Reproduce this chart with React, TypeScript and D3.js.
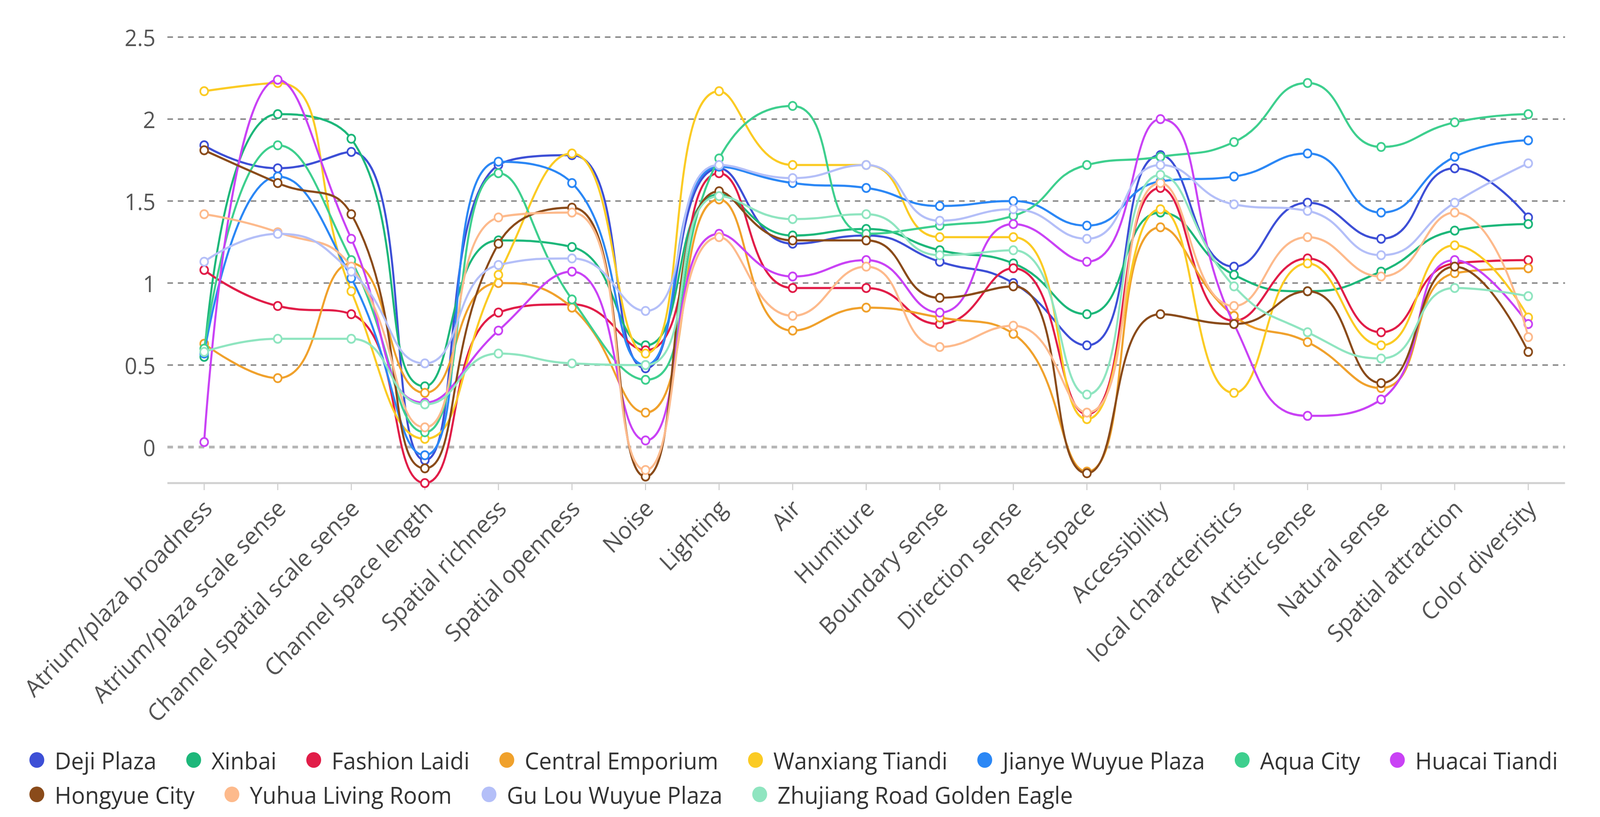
import React, { useMemo } from 'react';
import * as d3 from 'd3';

const categories = [
  'Atrium/plaza broadness', 'Atrium/plaza scale sense', 'Channel spatial scale sense',
  'Channel space length', 'Spatial richness', 'Spatial openness', 'Noise', 'Lighting',
  'Air', 'Humiture', 'Boundary sense', 'Direction sense', 'Rest space', 'Accessibility',
  'local characteristics', 'Artistic sense', 'Natural sense', 'Spatial attraction', 'Color diversity',
];

const seriesNames = [
  'Deji Plaza', 'Xinbai', 'Fashion Laidi', 'Central Emporium', 'Wanxiang Tiandi',
  'Jianye Wuyue Plaza', 'Aqua City', 'Huacai Tiandi', 'Hongyue City', 'Yuhua Living Room',
  'Gu Lou Wuyue Plaza', 'Zhujiang Road Golden Eagle',
];

const seriesColors = [
  '#3d4fd6', '#1db77a', '#e11d48', '#f0a12c', '#fbcb24', '#2b87f5',
  '#3ecf8e', '#c942f5', '#8a4b1a', '#fdba8c', '#b4bff8', '#8fe5c0',
];

const dejiPlaza = [1.84, 1.70, 1.80, -0.08, 1.72, 1.78, 0.48, 1.70, 1.24, 1.29, 1.13, 1.00, 0.62, 1.78, 1.10, 1.49, 1.27, 1.70, 1.40];
const xinbai = [0.55, 2.03, 1.88, 0.37, 1.26, 1.22, 0.62, 1.54, 1.29, 1.33, 1.20, 1.12, 0.81, 1.43, 1.05, 0.95, 1.07, 1.32, 1.36];
const fashionLaidi = [1.08, 0.86, 0.81, -0.22, 0.82, 0.87, 0.59, 1.67, 0.97, 0.97, 0.75, 1.09, 0.20, 1.58, 0.77, 1.15, 0.70, 1.12, 1.14];
const centralEmporium = [0.63, 0.42, 1.12, 0.33, 1.00, 0.85, 0.21, 1.51, 0.71, 0.85, 0.79, 0.69, -0.15, 1.34, 0.80, 0.64, 0.36, 1.06, 1.09];
const wanxiangTiandi = [2.17, 2.22, 0.95, 0.05, 1.05, 1.79, 0.57, 2.17, 1.72, 1.72, 1.28, 1.28, 0.17, 1.45, 0.33, 1.12, 0.62, 1.23, 0.79];
const jianyeWuyue = [0.57, 1.65, 1.03, -0.05, 1.74, 1.61, 0.50, 1.71, 1.61, 1.58, 1.47, 1.50, 1.35, 1.62, 1.65, 1.79, 1.43, 1.77, 1.87];
const aquaCity = [0.60, 1.84, 1.14, 0.09, 1.67, 0.90, 0.41, 1.76, 2.08, 1.30, 1.35, 1.41, 1.72, 1.77, 1.86, 2.22, 1.83, 1.98, 2.03];
const huacaiTiandi = [0.03, 2.24, 1.27, 0.27, 0.71, 1.07, 0.04, 1.30, 1.04, 1.14, 0.82, 1.36, 1.13, 2.00, 0.75, 0.19, 0.29, 1.14, 0.75];
const hongyueCity = [1.81, 1.61, 1.42, -0.13, 1.24, 1.46, -0.18, 1.56, 1.26, 1.26, 0.91, 0.98, -0.16, 0.81, 0.75, 0.95, 0.39, 1.10, 0.58];
const yuhuaLivingRoom = [1.42, 1.31, 1.10, 0.12, 1.40, 1.43, -0.14, 1.28, 0.80, 1.10, 0.61, 0.74, 0.21, 1.61, 0.86, 1.28, 1.04, 1.43, 0.67];
const guLouWuyue = [1.13, 1.30, 1.07, 0.51, 1.11, 1.15, 0.83, 1.72, 1.64, 1.72, 1.38, 1.45, 1.27, 1.72, 1.48, 1.44, 1.17, 1.49, 1.73];
const zhujiangRoad = [0.58, 0.66, 0.66, 0.26, 0.57, 0.51, 0.50, 1.53, 1.39, 1.42, 1.17, 1.20, 0.32, 1.66, 0.98, 0.70, 0.54, 0.97, 0.92];

const seriesValues = [
  dejiPlaza, xinbai, fashionLaidi, centralEmporium, wanxiangTiandi, jianyeWuyue,
  aquaCity, huacaiTiandi, hongyueCity, yuhuaLivingRoom, guLouWuyue, zhujiangRoad,
];

const yTicks = [0, 0.5, 1, 1.5, 2, 2.5];
const yMin = -0.22;
const yMax = 2.5;

const W = 4301;
const H = 2092;
const FONT = '"Open Sans", "Noto Sans", sans-serif';
const FS = 59;
const FS_X = 61;
const FS_LEG = 61;

// ECharts-like smooth line (smooth = 0.5) with extreme constraints
function smoothPath(pts: [number, number][], smooth = 0.5): string {
  const p = d3.path();
  let cpx0 = 0, cpy0 = 0, prevX = 0, prevY = 0;
  const n = pts.length;
  for (let i = 0; i < n; i++) {
    const [x, y] = pts[i];
    if (i === 0) {
      p.moveTo(x, y);
      cpx0 = x; cpy0 = y;
    } else {
      let cpx1: number, cpy1: number;
      let nextCpx0 = x, nextCpy0 = y;
      if (i === n - 1) {
        cpx1 = x; cpy1 = y;
      } else {
        const [nextX, nextY] = pts[i + 1];
        let vx = nextX - prevX, vy = nextY - prevY;
        const dx0 = x - prevX, dx1 = nextX - x, dy0 = y - prevY, dy1 = nextY - y;
        const lenPrev = Math.hypot(dx0, dy0);
        const lenNext = Math.hypot(dx1, dy1);
        const ratio = lenNext / (lenNext + lenPrev);
        nextCpx0 = x + vx * smooth * ratio;
        nextCpy0 = y + vy * smooth * ratio;
        nextCpx0 = Math.min(nextCpx0, Math.max(nextX, x));
        nextCpy0 = Math.min(nextCpy0, Math.max(nextY, y));
        nextCpx0 = Math.max(nextCpx0, Math.min(nextX, x));
        nextCpy0 = Math.max(nextCpy0, Math.min(nextY, y));
        vx = nextCpx0 - x; vy = nextCpy0 - y;
        cpx1 = x - vx * lenPrev / lenNext;
        cpy1 = y - vy * lenPrev / lenNext;
        cpx1 = Math.min(cpx1, Math.max(prevX, x));
        cpy1 = Math.min(cpy1, Math.max(prevY, y));
        cpx1 = Math.max(cpx1, Math.min(prevX, x));
        cpy1 = Math.max(cpy1, Math.min(prevY, y));
        vx = x - cpx1; vy = y - cpy1;
        nextCpx0 = x + vx * lenNext / lenPrev;
        nextCpy0 = y + vy * lenNext / lenPrev;
      }
      p.bezierCurveTo(cpx0, cpy0, cpx1, cpy1, x, y);
      cpx0 = nextCpx0; cpy0 = nextCpy0;
    }
    prevX = x; prevY = y;
  }
  return p.toString();
}

export default function App() {
  const x = d3.scaleBand<string>().domain(categories).range([450, 4207]);
  const cx = (c: string) => (x(c) as number) + x.bandwidth() / 2;
  const y = d3.scaleLinear().domain([yMin, yMax]).range([1237, 95]);
  const axisY = y(yMin);

  const legend = useMemo(() => {
    const canvas = document.createElement('canvas');
    const ctx = canvas.getContext('2d')!;
    ctx.font = `${FS_LEG}px ${FONT}`;
    const items: { name: string; color: string; cx: number; cy: number }[] = [];
    const rowY = [1946, 2034];
    let row = 0;
    let pos = 99;
    seriesNames.forEach((name, i) => {
      const w = ctx.measureText(name).width;
      if (pos + 48 + w > 4240) { row += 1; pos = 99; }
      items.push({ name, color: seriesColors[i], cx: pos, cy: rowY[Math.min(row, 1)] + Math.max(0, row - 1) * 88 });
      pos = pos + 48 + w + 100;
    });
    return items;
  }, []);

  return (
    <svg viewBox={`0 0 ${W} ${H}`} preserveAspectRatio="none"
      style={{ position: 'absolute', left: 0, top: 0, width: '100vw', height: '100vh', background: '#fff', display: 'block' }}
      fontFamily={FONT}>
      <rect x={0} y={0} width={W} height={H} fill="#fff" />
      {/* grid lines */}
      {yTicks.map((t) => (
        <line key={`g${t}`} x1={450} x2={4207} y1={y(t)} y2={y(t)}
          stroke={t === 0 ? '#b5b5b5' : '#8c8c8c'} strokeWidth={t === 0 ? 7 : 4}
          strokeDasharray="15,13" />
      ))}
      {/* y labels */}
      {yTicks.map((t) => (
        <text key={`yl${t}`} x={418} y={y(t)} textAnchor="end" dominantBaseline="central"
          fontSize={FS} fill="#555">{String(t)}</text>
      ))}
      {/* x axis */}
      <line x1={450} x2={4207} y1={axisY} y2={axisY} stroke="#d0d0d0" strokeWidth={5} />
      {categories.map((c) => (
        <line key={`t${c}`} x1={cx(c)} x2={cx(c)} y1={axisY} y2={axisY + 18} stroke="#d0d0d0" strokeWidth={3} />
      ))}
      {categories.map((c) => (
        <text key={`xl${c}`} transform={`translate(${cx(c) + 8},${axisY + 52}) rotate(-45)`}
          textAnchor="end" dominantBaseline="central" fontSize={FS_X} fill="#555">{c}</text>
      ))}
      {/* series */}
      {seriesValues.map((vals, si) => {
        const pts = vals.map((v, i) => [cx(categories[i]), y(v)] as [number, number]);
        return (
          <g key={`s${si}`}>
            <path d={smoothPath(pts)} fill="none" stroke={seriesColors[si]} strokeWidth={5.5} />
            {pts.map(([px, py], i) => (
              <circle key={i} cx={px} cy={py} r={10.5} fill="#fff" stroke={seriesColors[si]} strokeWidth={4.5} />
            ))}
          </g>
        );
      })}
      {/* legend */}
      {legend.map((it) => (
        <g key={`lg${it.name}`}>
          <circle cx={it.cx} cy={it.cy} r={20} fill={it.color} />
          <text x={it.cx + 48} y={it.cy} dominantBaseline="central" fontSize={FS_LEG} fill="#333">{it.name}</text>
        </g>
      ))}
    </svg>
  );
}
